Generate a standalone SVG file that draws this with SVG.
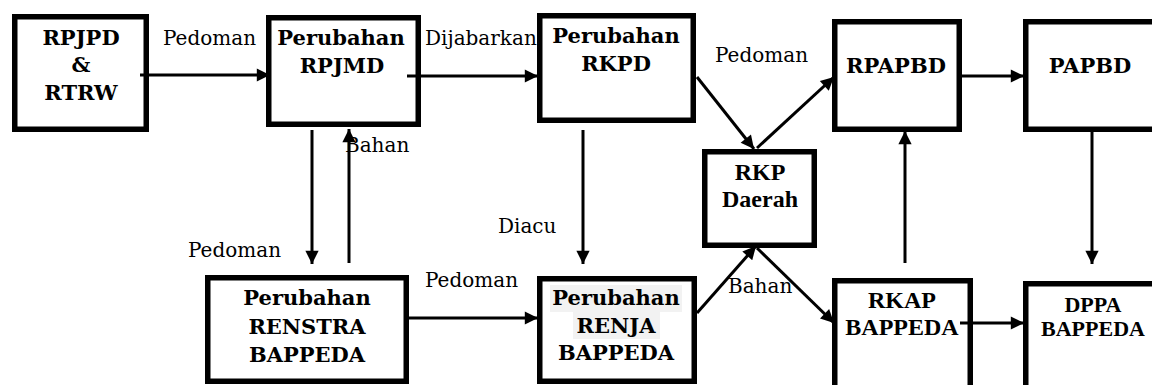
<svg xmlns="http://www.w3.org/2000/svg" width="1152" height="385" viewBox="0 0 1152 385">
<style>
.box{fill:#fff;stroke:#000;stroke-width:5.5}
.b{font-family:"DejaVu Serif","Liberation Serif",serif;font-weight:bold;font-size:21px;fill:#000;text-anchor:middle}
.t{font-family:"Liberation Serif",serif;font-weight:bold;fill:#000;text-anchor:middle}
.lbl{font-family:"DejaVu Serif","Liberation Serif",serif;font-size:20px;fill:#000}
.c{stroke:#000;stroke-width:3;fill:none;marker-end:url(#ah)}
</style>
<defs>
<marker id="ah" viewBox="0 0 10 10" refX="10" refY="5" markerWidth="5" markerHeight="4.4" orient="auto">
<path d="M0,0 L10,5 L0,10 z" fill="#000"/>
</marker>
</defs>
<rect width="1152" height="385" fill="#fff"/>
<g id="n-rpjpd">
<rect class="box" x="14.75" y="16.75" width="131.5" height="112.5"/>
<text class="b" x="81" y="45">RPJPD</text>
<text class="b" x="81" y="72">&amp;</text>
<text class="b" x="81" y="100">RTRW</text>
</g>
<g id="n-rpjmd">
<rect class="box" x="268.75" y="17.75" width="149.5" height="106.5"/>
<text class="b" x="341" y="45">Perubahan</text>
<text class="b" x="342" y="73">RPJMD</text>
</g>
<g id="n-rkpd">
<rect class="box" x="539.75" y="15.75" width="153.5" height="104.5"/>
<text class="b" x="616" y="43">Perubahan</text>
<text class="b" x="616" y="71">RKPD</text>
</g>
<g id="n-rpapbd">
<rect class="box" x="834.75" y="21.75" width="124.5" height="107.5"/>
<text class="b" x="896" y="73">RPAPBD</text>
</g>
<g id="n-papbd">
<rect class="box" x="1025.75" y="21.75" width="200" height="107.5"/>
<text class="b" x="1090" y="73">PAPBD</text>
</g>
<g id="n-rkpdaerah">
<rect class="box" x="704.75" y="151.75" width="109.5" height="93.5"/>
<text class="t" x="760" y="180" font-size="24">RKP</text>
<text class="t" x="760" y="207" font-size="24">Daerah</text>
</g>
<g id="n-renstra">
<rect class="box" x="207.75" y="277.75" width="198.5" height="103.5"/>
<text class="b" x="307" y="305">Perubahan</text>
<text class="b" x="307" y="334">RENSTRA</text>
<text class="b" x="307" y="362">BAPPEDA</text>
</g>
<g id="n-renja">
<rect class="box" x="539.75" y="278.75" width="154.5" height="102.5"/>
<rect x="550" y="285" width="132" height="27" fill="#f2f2f2"/>
<rect x="573" y="312" width="87" height="27" fill="#f2f2f2"/>
<text class="b" x="616" y="305">Perubahan</text>
<text class="b" x="616" y="333">RENJA</text>
<text class="b" x="616" y="360">BAPPEDA</text>
</g>
<g id="n-rkap">
<rect class="box" x="834.75" y="280.75" width="135.5" height="150"/>
<text class="t" x="902" y="308" font-size="24">RKAP</text>
<text class="t" x="902" y="335" font-size="24">BAPPEDA</text>
</g>
<g id="n-dppa">
<rect class="box" x="1025.75" y="283.75" width="200" height="150"/>
<text class="t" x="1093" y="312" font-size="22">DPPA</text>
<text class="t" x="1093" y="336" font-size="22">BAPPEDA</text>
</g>
<g id="connectors">
<line class="c" x1="140" y1="75" x2="270" y2="75"/>
<line class="c" x1="407" y1="76" x2="538" y2="76"/>
<line class="c" x1="697" y1="77" x2="754" y2="149"/>
<line class="c" x1="757" y1="148" x2="834" y2="77"/>
<line class="c" x1="962" y1="76" x2="1024" y2="76"/>
<line class="c" x1="1092" y1="132" x2="1092" y2="264"/>
<line class="c" x1="905" y1="263" x2="905" y2="131"/>
<line class="c" x1="960" y1="323" x2="1024" y2="323"/>
<line class="c" x1="757" y1="248" x2="834" y2="323"/>
<line class="c" x1="697" y1="313" x2="756" y2="246"/>
<line class="c" x1="409" y1="318" x2="538" y2="318"/>
<line class="c" x1="312" y1="130" x2="312" y2="264"/>
<line class="c" x1="349" y1="263" x2="349" y2="129"/>
<line class="c" x1="583" y1="130" x2="583" y2="264"/>
</g>
<g id="labels">
<text class="lbl" x="163" y="45">Pedoman</text>
<text class="lbl" x="425" y="45">Dijabarkan</text>
<text class="lbl" x="715" y="62">Pedoman</text>
<text class="lbl" x="345" y="152">Bahan</text>
<text class="lbl" x="188" y="257">Pedoman</text>
<text class="lbl" x="498" y="233">Diacu</text>
<text class="lbl" x="425" y="287">Pedoman</text>
<text class="lbl" x="728" y="293">Bahan</text>
</g>
</svg>
